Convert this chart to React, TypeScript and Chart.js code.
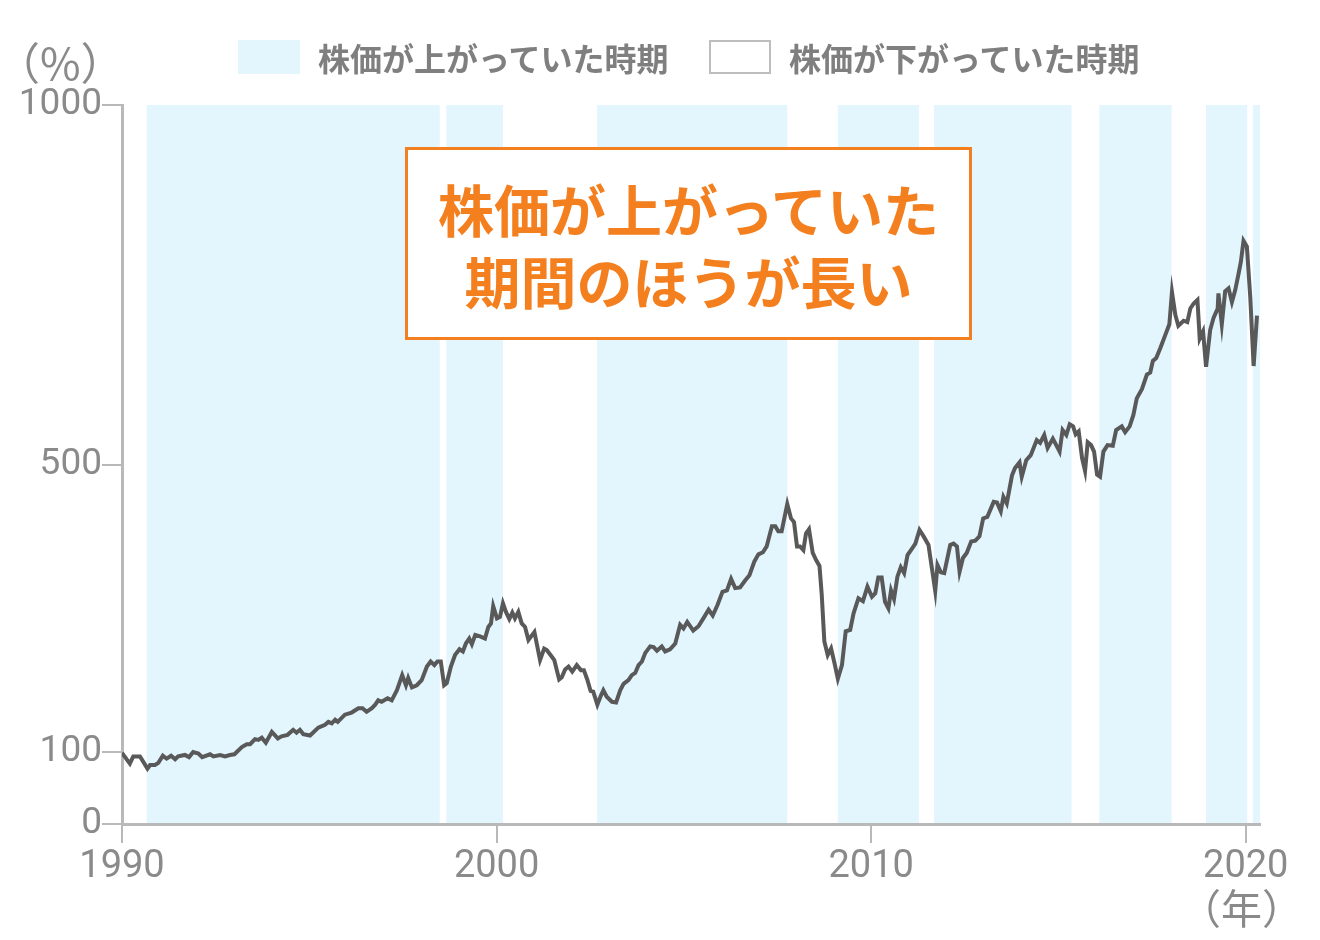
import React, { useEffect, useRef } from "react";
import { Chart, registerables } from "chart.js";

Chart.register(...registerables);

// ---- data ----
const years: number[] = [
  1990.0, 1990.21, 1990.3, 1990.48, 1990.68, 1990.75, 1990.88, 1990.97, 1991.09, 1991.19,
  1991.31, 1991.42, 1991.5, 1991.68, 1991.79, 1991.9, 1992.04, 1992.14, 1992.35, 1992.44,
  1992.62, 1992.75, 1992.88, 1993.0, 1993.2, 1993.33, 1993.42, 1993.55, 1993.64, 1993.73,
  1993.84, 1994.0, 1994.16, 1994.26, 1994.42, 1994.57, 1994.66, 1994.75, 1994.84, 1995.02,
  1995.24, 1995.42, 1995.51, 1995.6, 1995.69, 1995.76, 1995.95, 1996.13, 1996.31, 1996.42,
  1996.53, 1996.67, 1996.76, 1996.84, 1996.93, 1997.09, 1997.2, 1997.34, 1997.48, 1997.58,
  1997.64, 1997.74, 1997.87, 1998.0, 1998.14, 1998.24, 1998.34, 1998.42, 1998.51, 1998.6,
  1998.67, 1998.78, 1998.89, 1999.01, 1999.1, 1999.18, 1999.27, 1999.34, 1999.43, 1999.56,
  1999.69, 1999.78, 1999.85, 1999.91, 2000.01, 2000.09, 2000.17, 2000.25, 2000.34, 2000.42,
  2000.49, 2000.58, 2000.67, 2000.76, 2000.85, 2001.01, 2001.16, 2001.27, 2001.34, 2001.47,
  2001.54, 2001.67, 2001.74, 2001.83, 2001.92, 2002.02, 2002.14, 2002.25, 2002.33, 2002.42,
  2002.51, 2002.58, 2002.69, 2002.78, 2002.85, 2002.94, 2003.08, 2003.19, 2003.3, 2003.39,
  2003.52, 2003.61, 2003.7, 2003.79, 2003.88, 2003.97, 2004.1, 2004.19, 2004.28, 2004.41,
  2004.5, 2004.63, 2004.77, 2004.9, 2004.99, 2005.09, 2005.25, 2005.39, 2005.52, 2005.66,
  2005.77, 2005.9, 2006.03, 2006.15, 2006.26, 2006.37, 2006.5, 2006.64, 2006.75, 2006.88,
  2006.99, 2007.11, 2007.21, 2007.35, 2007.44, 2007.52, 2007.61, 2007.76, 2007.86, 2007.94,
  2008.02, 2008.1, 2008.19, 2008.26, 2008.34, 2008.44, 2008.53, 2008.62, 2008.68, 2008.75,
  2008.84, 2008.93, 2009.02, 2009.11, 2009.22, 2009.32, 2009.44, 2009.53, 2009.66, 2009.78,
  2009.9, 2010.02, 2010.11, 2010.19, 2010.28, 2010.37, 2010.46, 2010.53, 2010.61, 2010.7,
  2010.79, 2010.88, 2010.97, 2011.09, 2011.18, 2011.29, 2011.4, 2011.53, 2011.62, 2011.71,
  2011.77, 2011.86, 2011.95, 2012.11, 2012.2, 2012.29, 2012.36, 2012.45, 2012.55, 2012.67,
  2012.78, 2012.89, 2012.99, 2013.1, 2013.27, 2013.36, 2013.46, 2013.53, 2013.62, 2013.76,
  2013.84, 2013.96, 2014.02, 2014.14, 2014.26, 2014.42, 2014.51, 2014.62, 2014.71, 2014.85,
  2014.94, 2015.03, 2015.11, 2015.21, 2015.3, 2015.39, 2015.46, 2015.54, 2015.63, 2015.71,
  2015.78, 2015.87, 2015.95, 2016.03, 2016.11, 2016.2, 2016.31, 2016.45, 2016.54, 2016.69,
  2016.78, 2016.9, 2017.0, 2017.09, 2017.23, 2017.36, 2017.45, 2017.52, 2017.61, 2017.72,
  2017.85, 2017.96, 2018.03, 2018.12, 2018.2, 2018.34, 2018.44, 2018.52, 2018.61, 2018.71,
  2018.77, 2018.86, 2018.94, 2019.05, 2019.14, 2019.25, 2019.27, 2019.36, 2019.45, 2019.54,
  2019.63, 2019.72, 2019.81, 2019.87, 2019.94, 2020.03, 2020.12, 2020.21, 2020.3,
];

const values: number[] = [
  99, 84, 94, 94, 77, 82, 82, 85, 95, 91,
  95, 90, 94, 96, 93, 100, 98, 93, 97, 94,
  96, 94, 96, 97, 107, 111, 111, 118, 117, 120,
  113, 128, 119, 122, 124, 131, 127, 131, 125, 123,
  134, 138, 142, 140, 145, 142, 152, 155, 161, 161,
  156, 161, 166, 172, 170, 175, 172, 186, 207, 193,
  203, 190, 193, 200, 219, 226, 221, 226, 226, 193,
  196, 219, 235, 243, 240, 251, 258, 250, 263, 261,
  258, 274, 279, 303, 286, 288, 307, 295, 285, 294,
  286, 295, 279, 274, 256, 267, 228, 244, 242, 233,
  228, 201, 204, 215, 219, 212, 221, 214, 214, 201,
  185, 184, 166, 178, 186, 177, 170, 169, 186, 195,
  200, 207, 210, 221, 226, 238, 247, 246, 241, 247,
  240, 243, 251, 277, 272, 281, 269, 275, 286, 298,
  290, 305, 323, 325, 341, 328, 329, 339, 346, 365,
  375, 378, 386, 414, 414, 407, 407, 445, 425, 420,
  386, 386, 381, 404, 410, 377, 367, 359, 319, 254,
  235, 244, 224, 202, 221, 268, 270, 293, 314, 310,
  330, 316, 321, 343, 343, 309, 300, 325, 313, 344,
  357, 349, 374, 383, 390, 409, 400, 388, 356, 324,
  360, 350, 349, 388, 390, 386, 351, 370, 377, 393,
  394, 400, 425, 427, 448, 447, 435, 455, 446, 485,
  495, 503, 483, 506, 513, 534, 530, 541, 523, 536,
  527, 518, 548, 541, 556, 553, 542, 546, 509, 491,
  531, 527, 518, 486, 483, 518, 527, 526, 548, 553,
  545, 553, 569, 592, 605, 625, 628, 644, 648, 662,
  680, 695, 740, 708, 693, 700, 698, 717, 724, 729,
  675, 685, 636, 687, 704, 717, 738, 695, 741, 745,
  726, 743, 766, 782, 811, 803, 733, 637, 707,
];

// rising-market periods (decimal years)
const riseStarts: number[] = [1990.66, 1998.66, 2002.68, 2009.11, 2011.68, 2016.09, 2018.94, 2020.19];
const riseEnds: number[] = [1998.48, 2000.17, 2007.76, 2011.28, 2015.35, 2018.02, 2020.04, 2020.4];

const xTickValues: number[] = [1990, 2000, 2010, 2020];
const yTickValues: number[] = [0, 100, 500, 1000];

const legendLabels: string[] = ["株価が上がっていた時期", "株価が下がっていた時期"];
const calloutLines: string[] = ["株価が上がっていた", "期間のほうが長い"];
const yUnit = "（%）";
const xUnit = "（年）";

const BAND = "#e3f5fd";
const GRAY_TEXT = "#8a8a8a";
const AXIS = "#b9b9b9";
const ORANGE = "#f47f1e";
const JP = "'Noto Sans CJK JP', 'Noto Sans', sans-serif";
const NUM = "Roboto, 'Noto Sans', sans-serif";

const bandPlugin = {
  id: "bands",
  beforeDraw(chart: any) {
    const { ctx, chartArea, scales } = chart;
    const x = scales.x;
    ctx.save();
    ctx.fillStyle = BAND;
    for (let i = 0; i < riseStarts.length; i++) {
      const a = x.getPixelForValue(riseStarts[i]);
      const b = Math.min(x.getPixelForValue(riseEnds[i]), chartArea.right);
      ctx.fillRect(a, chartArea.top, b - a, chartArea.bottom - chartArea.top);
    }
    ctx.restore();
  },
};

export default function App() {
  const ref = useRef<HTMLCanvasElement | null>(null);

  useEffect(() => {
    if (!ref.current) return;
    const points = years.map((y, i) => ({ x: y, y: values[i] }));
    const chart = new Chart(ref.current, {
      type: "line",
      data: {
        datasets: [
          {
            data: points,
            borderColor: "#595959",
            borderWidth: 4,
            pointRadius: 0,
            tension: 0,
            fill: false,
          },
        ],
      },
      options: {
        animation: false,
        responsive: false,
        devicePixelRatio: 1,
        layout: { padding: { left: 0, right: 60, top: 105, bottom: 0 } },
        plugins: { legend: { display: false }, tooltip: { enabled: false } },
        scales: {
          x: {
            type: "linear",
            min: 1990,
            max: 2020.38,
            afterFit: (s: any) => {
              s.height = 116;
            },
            afterBuildTicks: (s: any) => {
              s.ticks = xTickValues.map((v) => ({ value: v }));
            },
            border: { color: AXIS, width: 3 },
            grid: {
              drawOnChartArea: false,
              drawTicks: true,
              tickLength: 19,
              color: AXIS,
              lineWidth: 2,
            },
            ticks: {
              color: GRAY_TEXT,
              font: { family: NUM, size: 38, lineHeight: 1 },
              padding: 5,
              maxRotation: 0,
              autoSkip: false,
              callback: (v: any) => String(v),
            },
          },
          y: {
            type: "linear",
            min: 0,
            max: 1000,
            afterFit: (s: any) => {
              s.width = 122;
            },
            afterBuildTicks: (s: any) => {
              s.ticks = yTickValues.map((v) => ({ value: v }));
            },
            border: { color: AXIS, width: 3 },
            grid: {
              drawOnChartArea: false,
              drawTicks: true,
              tickLength: 20,
              color: AXIS,
              lineWidth: 2,
            },
            ticks: {
              color: GRAY_TEXT,
              font: { family: NUM, size: 37, lineHeight: 1 },
              padding: 0,
              autoSkip: false,
              callback: (v: any) => String(v),
            },
          },
        },
      },
      plugins: [bandPlugin],
    });
    return () => chart.destroy();
  }, []);

  const legendText: React.CSSProperties = {
    position: "absolute",
    top: 57 - 20,
    height: 40,
    lineHeight: "40px",
    fontFamily: JP,
    fontWeight: 700,
    fontSize: 32,
    color: "#7f7f7f",
    whiteSpace: "nowrap",
  };

  return (
    <div
      style={{
        position: "absolute",
        left: 0,
        top: 0,
        width: 1320,
        height: 940,
        background: "#ffffff",
        overflow: "hidden",
      }}
    >
      <canvas
        ref={ref}
        width={1320}
        height={940}
        style={{ position: "absolute", left: 0, top: 0, width: 1320, height: 940 }}
      />
      {/* y unit */}
      <div
        style={{
          position: "absolute",
          left: -4,
          top: 61 - 26,
          height: 52,
          lineHeight: "52px",
          fontFamily: JP,
          fontSize: 44,
          color: GRAY_TEXT,
          whiteSpace: "nowrap",
        }}
      >
        {yUnit}
      </div>
      {/* x unit */}
      <div
        style={{
          position: "absolute",
          left: 1180,
          top: 906 - 25,
          height: 50,
          lineHeight: "50px",
          fontFamily: JP,
          fontSize: 41,
          color: GRAY_TEXT,
          whiteSpace: "nowrap",
        }}
      >
        {xUnit}
      </div>
      {/* legend */}
      <div
        style={{
          position: "absolute",
          left: 238,
          top: 40,
          width: 62,
          height: 34,
          background: BAND,
        }}
      />
      <div style={{ ...legendText, left: 318 }}>{legendLabels[0]}</div>
      <div
        style={{
          position: "absolute",
          left: 709,
          top: 40,
          width: 62,
          height: 34,
          boxSizing: "border-box",
          border: "2px solid #bdbdbd",
          background: "#ffffff",
        }}
      />
      <div style={{ ...legendText, left: 789 }}>{legendLabels[1]}</div>
      {/* callout */}
      <div
        style={{
          position: "absolute",
          left: 405,
          top: 147,
          width: 567,
          height: 193,
          boxSizing: "border-box",
          border: `3px solid ${ORANGE}`,
          background: "#ffffff",
          display: "flex",
          flexDirection: "column",
          alignItems: "center",
          justifyContent: "center",
          fontFamily: JP,
          fontWeight: 700,
          fontSize: 56,
          lineHeight: "72px",
          color: ORANGE,
        }}
      >
        {calloutLines.map((t, i) => (
          <div key={i} style={{ whiteSpace: "nowrap" }}>
            {t}
          </div>
        ))}
      </div>
    </div>
  );
}
